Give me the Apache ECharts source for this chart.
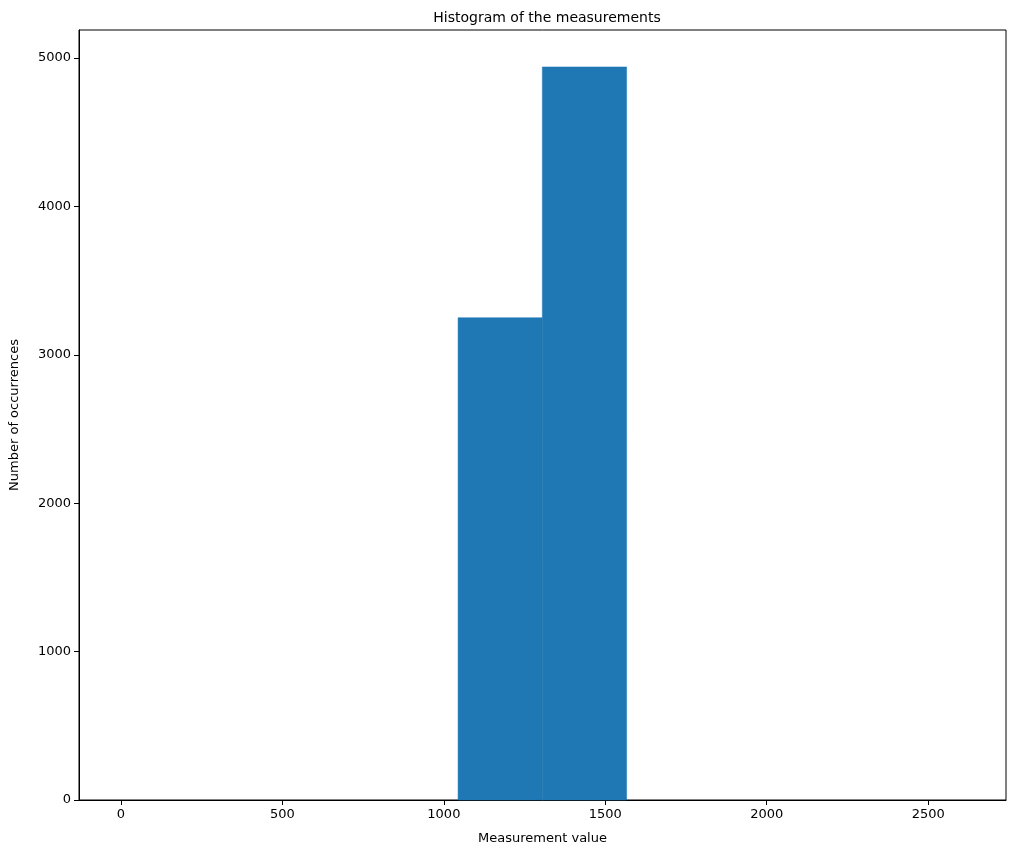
<!DOCTYPE html>
<html>
<head>
<meta charset="utf-8">
<script src="https://cdn.jsdelivr.net/npm/echarts@6/dist/echarts.min.js"></script>
<style>html,body{margin:0;padding:0;background:#fff}#main{width:1015px;height:854px}</style>
</head>
<body>
<div id="main"></div>
<script>
// histogram bins (10 equal bins) and counts
var binEdges = [0, 261, 522, 783, 1044, 1305, 1566, 1827, 2088, 2349, 2610];
var counts = [0, 0, 0, 0, 3250, 4940, 0, 0, 0, 0];
var xTicks = [0, 500, 1000, 1500, 2000, 2500];
var yTicks = [0, 1000, 2000, 3000, 4000, 5000];

var bins = counts.map(function (c, i) { return [binEdges[i], binEdges[i + 1], c]; });

var chart = echarts.init(document.getElementById("main"));
var font = "DejaVu Sans";
var plain = function (v) { return String(v); };
chart.setOption({
  animation: false,
  title: {
    text: "Histogram of the measurements",
    left: 542, top: 6, textAlign: "center",
    textStyle: { fontFamily: font, fontSize: 14, fontWeight: "normal", color: "#000" }
  },
  grid: { left: 78, right: 9, top: 30, bottom: 54, show: true, borderColor: "#000", borderWidth: 1 },
  xAxis: {
    type: "value", min: -130, max: 2741,
    name: "Measurement value", nameLocation: "middle", nameGap: 32,
    nameTextStyle: { fontFamily: font, fontSize: 13, color: "#000" },
    axisLine: { show: true, onZero: false, lineStyle: { color: "#000" } },
    axisTick: { show: true, length: 5, customValues: xTicks, lineStyle: { color: "#000" } },
    axisLabel: { customValues: xTicks, formatter: plain, fontFamily: font, fontSize: 13, color: "#000", margin: 8 },
    splitLine: { show: false }
  },
  yAxis: {
    type: "value", min: 0, max: 5189,
    name: "Number of occurrences", nameLocation: "middle", nameGap: 58,
    nameTextStyle: { fontFamily: font, fontSize: 13, color: "#000" },
    axisLine: { show: true, onZero: false, lineStyle: { color: "#000" } },
    axisTick: { show: true, length: 5, customValues: yTicks, lineStyle: { color: "#000" } },
    axisLabel: { customValues: yTicks, formatter: plain, fontFamily: font, fontSize: 13, color: "#000", margin: 8 },
    splitLine: { show: false }
  },
  series: [{
    type: "custom",
    data: bins,
    encode: { x: [0, 1], y: 2 },
    z: 1,
    renderItem: function (params, api) {
      var p0 = api.coord([api.value(0), api.value(2)]);
      var p1 = api.coord([api.value(1), 0]);
      var empty = api.value(2) === 0;
      return {
        type: "rect",
        shape: { x: p0[0], y: p0[1], width: p1[0] - p0[0], height: p1[1] - p0[1] },
        style: { fill: "#1f77b4", stroke: empty ? null : "#1f77b4", lineWidth: 0.5 }
      };
    }
  }]
});
</script>
</body>
</html>
